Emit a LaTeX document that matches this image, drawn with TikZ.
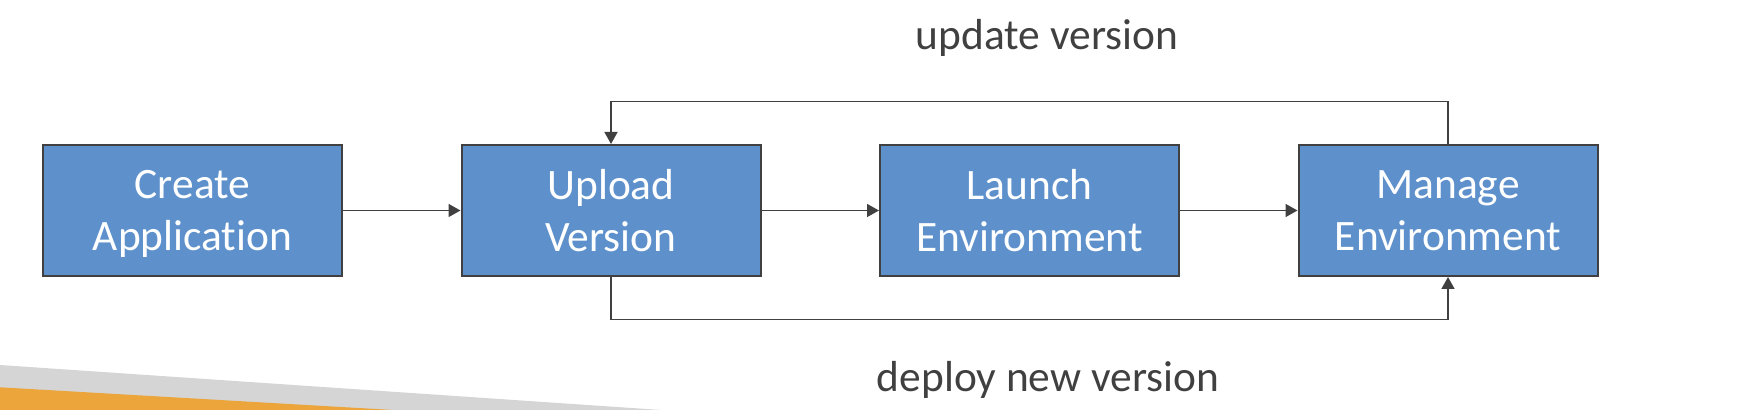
\documentclass[tikz,border=0pt]{standalone}
\usepackage{fontspec}
\setmainfont{Carlito}[Ligatures=NoCommon]
\usetikzlibrary{arrows.meta,positioning}
\definecolor{boxblue}{RGB}{94,145,204}
\definecolor{linegray}{RGB}{64,64,64}
\definecolor{stripegray}{RGB}{213,213,213}
\definecolor{stripeorange}{RGB}{235,165,58}
\tikzset{
	stage/.style={draw=linegray, line width=1pt, fill=boxblue, text=white, align=center,
		minimum width=149.5pt, minimum height=65.5pt, text depth=0pt,
		font=\fontsize{21.7}{26}\selectfont},
	flow/.style={draw=linegray, line width=.75pt, -{Triangle[length=6pt,width=6.5pt]}},
	note/.style={text=linegray, anchor=base, font=\fontsize{21.7}{26}\selectfont}
}

\begin{document}
\begin{tikzpicture}[x=.5pt, y=-.5pt, node distance=58.75pt]
	\useasboundingbox (0,0) rectangle (1756,410);
	\fill[stripegray] (0,365) -- (661,410) -- (0,410) -- cycle;
	\fill[stripeorange] (0,387.3) -- (393,410) -- (0,410) -- cycle;
	\node[stage] (create) at (192.5,210.5) {Create\\Application};
	\node[stage, right=of create] (upload) {Upload\\Version};
	\node[stage, right=of upload] (launch) {Launch\\Environment};
	\node[stage, right=of launch] (manage) {Manage\\Environment};
	\draw[flow] (create) -- (upload);
	\draw[flow] (upload) -- (launch);
	\draw[flow] (launch) -- (manage);
	\draw[flow] (manage.north) -- ++(0,-42.3) -| (upload.north);
	\draw[flow] (upload.south) -- ++(0,42.3) -| (manage.south);
	\node[note] (updatelbl) at (1047,50) {update version};
	\node[note] (deploylbl) at (1048,391.7) {deploy new version};
\end{tikzpicture}
\end{document}
